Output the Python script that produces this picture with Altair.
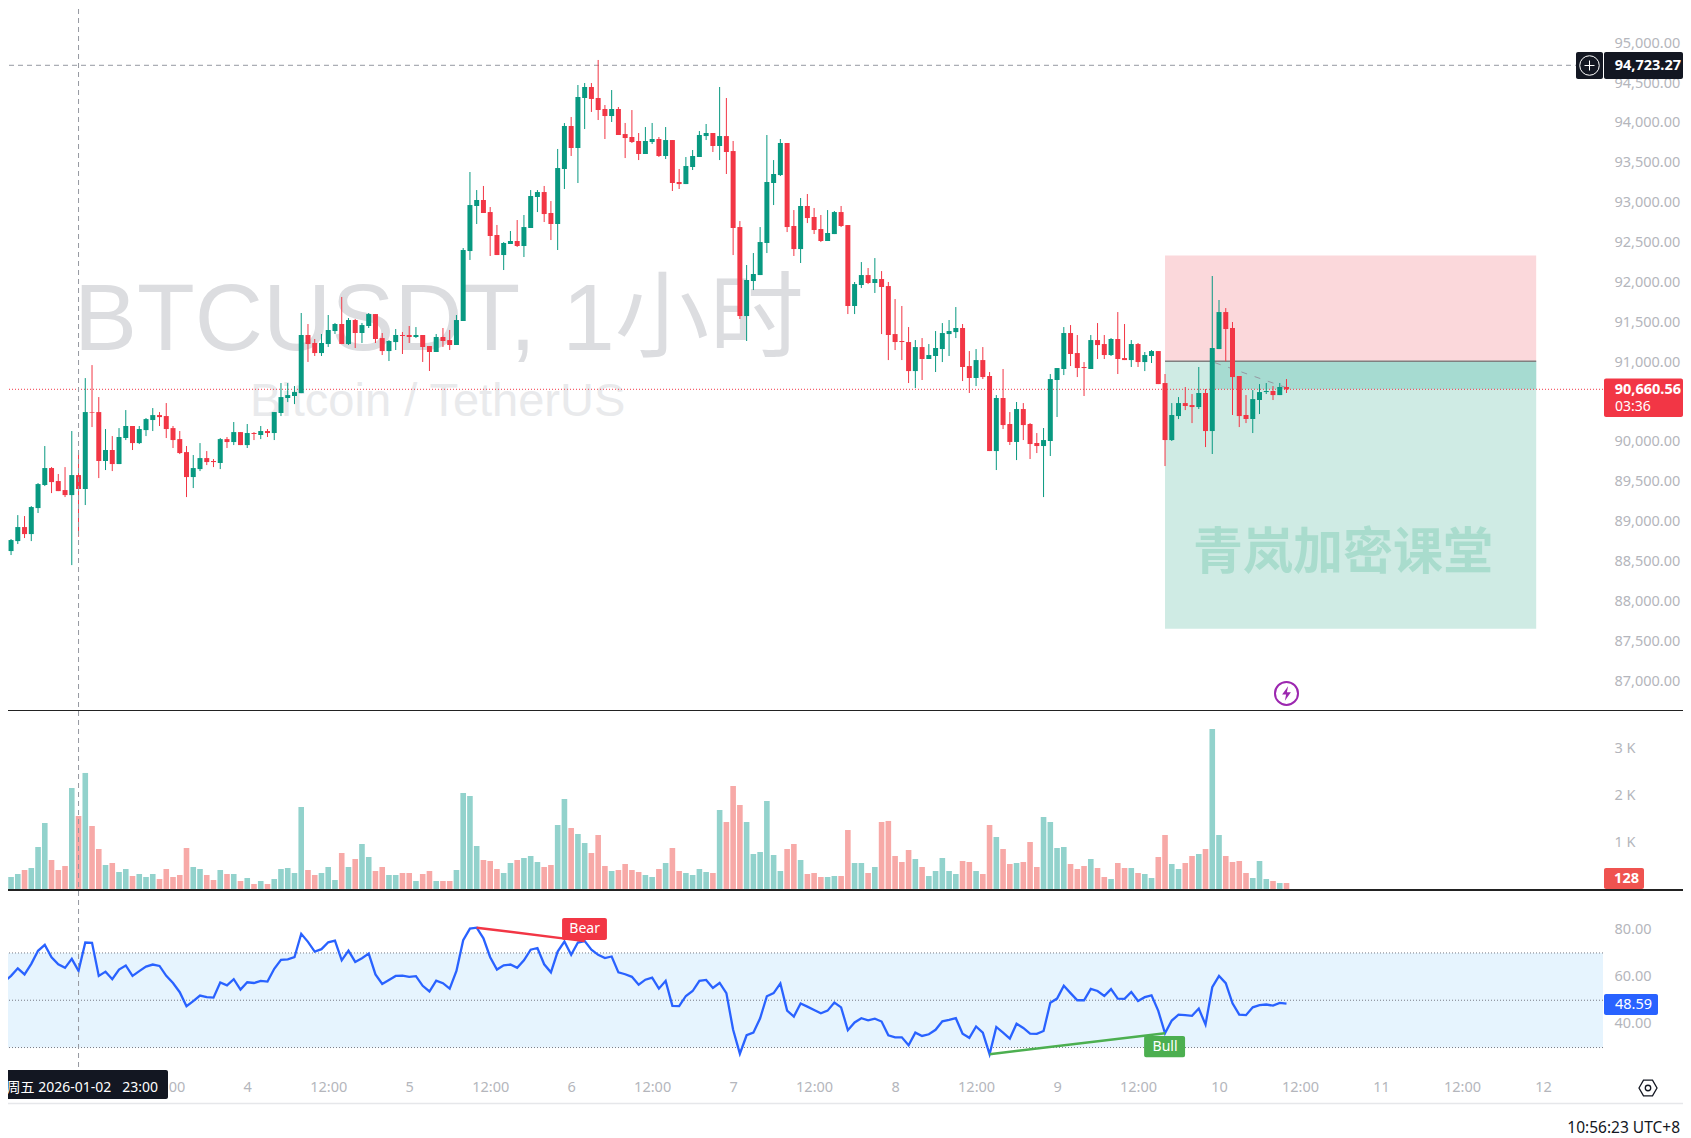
import altair as alt
import pandas as pd

FONT = "Noto Sans"

open_ = [88946,88632,88757,88933,88845,89171,89460,89673,89510,89397,
89334,89585,89410,90375,90375,89761,89899,89723,90049,90200,
89986,90149,90275,90337,90325,90174,90036,89873,89560,89660,
89798,89761,89736,90036,89999,90124,89961,90112,90087,90137,
90112,90363,90551,90576,90613,91341,91241,91115,91228,91391,
91479,91228,91529,91366,91454,91604,91303,91140,91253,91341,
91341,91316,91341,91203,91128,91316,91278,91216,91517,92394,
92959,93034,92883,92595,92344,92482,92520,92457,92683,93072,
93134,92871,92733,93423,93962,93686,94313,94451,94313,94175,
94087,94175,93861,93824,93774,93611,93761,93799,93586,93786,
93260,93234,93448,93573,93836,93874,93711,93836,93648,92695,
91579,92018,92093,92495,93247,93347,93749,92708,92419,92959,
92821,92670,92520,92607,92883,92720,91705,91968,92093,91993,
92043,91955,91353,91266,91253,90889,91190,91040,91078,91165,
91353,91378,91429,90952,90802,91027,90827,89886,90551,90225,
90000,90413,90225,89987,89949,90012,90777,90915,91366,91115,
90940,90915,91278,91228,91090,91291,91052,91027,91228,91002,
91078,91140,90739,90024,90325,90488,90463,90438,90614,90137,
91165,91629,91429,90827,90338,90288,90526,90626,90639,90588,
90689]
high = [88996,88783,89083,89071,89196,89485,89949,89685,89598,89685,
90137,89857,90801,90964,90563,90162,90074,90174,90400,90200,
90200,90300,90425,90375,90488,90200,90137,89949,89836,89986,
89886,89786,90049,90062,90250,90124,90225,90124,90200,90162,
90375,90739,90739,90701,91617,91479,91291,91354,91592,91492,
91818,91554,91542,91492,91617,91604,91366,91278,91416,91379,
91454,91441,91341,91203,91354,91429,91404,91592,92432,93385,
93159,93210,92946,92721,92507,92645,92783,92846,93159,93159,
93210,93021,93674,93999,94075,94476,94501,94501,94790,94225,
94413,94200,94000,94162,93874,93949,94000,93824,93949,93786,
93423,93573,93661,93899,93987,93874,94451,94313,93774,92770,
92219,92369,92695,93849,93535,93799,93749,92908,93059,93109,
92934,92846,92908,92896,92959,92720,92006,92256,92181,92306,
92143,92006,91792,91705,91441,91278,91303,91228,91391,91491,
91529,91692,91479,91140,91165,91190,90877,90588,90915,90375,
90501,90488,90237,90112,90175,90852,90927,91441,91466,91341,
91002,91341,91491,91341,91303,91629,91479,91278,91241,91128,
91153,91140,90852,90488,90563,90689,90601,90940,90664,92081,
91780,91679,91504,90827,90588,90651,90726,90739,90701,90739,
90789]
low = [88632,88582,88720,88795,88757,89109,89447,89359,89384,89309,
88456,88812,89209,90187,89547,89648,89635,89723,90024,89899,
89974,90074,90137,90200,90049,89924,89848,89309,89422,89635,
89710,89685,89660,89924,89961,89961,89924,90024,90036,90062,
90024,90325,90500,90475,90613,91003,91078,91078,91191,91354,
91228,91216,91178,91241,91429,91241,91090,91015,91153,91103,
91241,91303,91003,90890,91128,91191,91153,91216,91517,92282,
92733,92871,92332,92344,92156,92482,92445,92319,92683,92883,
92758,92532,92407,93172,93586,93247,93924,94138,94037,93799,
94012,93849,93560,93749,93535,93611,93736,93573,93548,93147,
93172,93234,93410,93573,93786,93636,93535,93360,92344,91542,
91266,91905,92093,92369,92971,93335,92632,92332,92244,92745,
92607,92507,92520,92607,92695,91604,91604,91930,91980,91868,
91353,91027,91153,91027,90739,90676,90777,91040,90877,91002,
91078,91303,90764,90614,90701,90789,89886,89648,90162,89962,
89773,90024,89786,89861,89309,89824,90313,90839,90952,90814,
90576,90915,91040,91040,91078,90852,91027,90940,90940,90889,
90990,90726,89698,90012,90287,90400,90237,90413,89936,89849,
91165,91011,90338,90187,90237,90112,90350,90601,90526,90588,
90614]
close = [88632,88770,88933,88845,89184,89472,89673,89497,89384,89334,
89585,89410,90375,90367,89761,89899,89723,90062,90200,89986,
90162,90287,90337,90312,90162,90024,89861,89560,89673,89798,
89748,89748,90036,89999,90124,89961,90112,90099,90137,90112,
90375,90563,90588,90626,91341,91228,91115,91241,91404,91479,
91228,91529,91366,91466,91604,91291,91140,91266,91341,91329,
91316,91341,91191,91128,91316,91266,91216,91529,92407,92971,
93034,92871,92583,92344,92495,92520,92457,92695,93084,93134,
92858,92733,93435,93962,93686,94326,94451,94301,94163,94087,
94175,93849,93811,93761,93611,93774,93799,93586,93786,93247,
93234,93460,93586,93849,93874,93711,93836,93636,92683,91579,
92031,92106,92507,93260,93360,93749,92695,92419,92959,92808,
92658,92520,92620,92883,92708,91705,91980,92093,91993,92043,
91943,91341,91253,91253,90889,91190,91040,91090,91178,91366,
91391,91429,90940,90802,91027,90814,89886,90551,90212,90000,
90413,90212,89974,89949,90024,90789,90927,91366,91103,90927,
90927,91278,91215,91090,91291,91040,91027,91228,91002,91090,
91140,90726,90024,90338,90488,90451,90438,90614,90137,91178,
91629,91416,90814,90325,90288,90538,90626,90639,90588,90689,
90660.56]
volume = [321,257,321,407,450,900,1414,621,407,493,
2163,1564,2485,1349,857,514,557,364,428,278,
321,257,321,214,428,257,300,878,471,428,
300,193,407,321,321,171,236,107,171,107,
214,428,450,343,1756,407,300,343,471,193,
771,471,643,964,685,386,471,300,300,343,
343,171,321,386,171,171,171,407,2056,1992,
921,621,600,428,343,557,621,664,707,578,
471,514,1371,1928,1307,1178,985,771,1157,493,
386,407,536,407,364,300,257,428,557,878,
386,343,300,428,364,343,1692,1435,2206,1799,
1435,750,793,1885,728,386,857,964,621,321,
343,257,257,278,278,1264,557,557,343,471,
1435,1457,707,578,835,643,471,278,386,664,
386,321,600,578,386,321,1371,1114,857,536,
557,578,1007,471,1542,1435,878,900,536,428,
493,643,450,257,214,557,450,450,343,321,
236,685,1157,536,428,557,707,750,857,3427,
1157,707,578,600,343,236,600,214,171,128,
128]
rsi = [57.8,60.3,63.5,60.9,65.4,70.9,73.4,68.2,65.2,63.7,
67.5,62.4,74.4,74.3,60.3,62.1,58.9,63.0,64.7,60.3,
62.3,64.2,65.1,64.5,60.3,57.3,53.4,47.5,49.6,52.0,
51.3,51.1,57.5,56.3,58.9,54.5,57.6,57.3,58.2,57.9,
63.3,67.1,67.3,68.2,78.1,74.7,70.6,71.6,74.5,75.2,
66.9,71.0,66.2,67.8,69.7,60.9,56.9,58.6,60.3,60.4,
59.9,60.2,56.1,53.7,58.3,57.2,54.9,62.4,75.4,80.3,
80.7,76.2,68.2,63.0,64.8,65.1,63.7,66.9,71.4,72.1,
65.2,61.8,70.6,74.8,69.2,74.4,75.0,71.4,69.2,67.8,
68.5,61.8,61.0,59.9,56.6,58.7,59.6,54.9,58.2,47.6,
47.5,51.8,53.9,58.2,58.6,55.2,57.3,53.0,37.5,27.4,
35.2,36.3,42.4,51.7,53.0,57.1,45.6,43.1,48.6,47.3,
45.9,44.5,45.6,49.0,47.0,37.3,40.6,42.4,41.5,42.2,
41.0,35.2,34.3,34.3,31.0,36.3,34.9,35.6,37.5,41.1,
41.7,42.4,35.8,34.1,38.9,36.3,27.2,38.7,36.3,33.8,
40.1,38.3,35.9,35.8,37.0,48.9,50.7,56.1,53.0,50.0,
50.0,54.8,53.9,51.8,54.7,50.7,50.6,53.5,49.7,51.3,
52.1,45.5,36.0,41.4,43.9,43.7,43.4,46.5,39.7,55.5,
60.3,57.2,48.7,43.9,43.7,47.0,47.9,48.2,47.7,48.9,
48.59]

time_tick_idx = [24,36,48,60,72,84,96,108,120,132,144,156,168,180,192,204,216,228]
time_tick_txt = ["12:00","4","12:00","5","12:00","6","12:00","7","12:00","8","12:00","9","12:00","10","12:00","11","12:00","12"]
price_ticks = [87000,87500,88000,88500,89000,89500,90000,91000,91500,92000,92500,93000,93500,94000,94500,95000]
volume_ticks = [1000,2000,3000]
rsi_ticks = [40,60,80]
rsi_levels = [70,50,30]

last_price = 90660.56
cross_price = 94723.27
cross_idx = 11
zone_left, zone_right = 172, 227
zone_top, zone_entry, zone_bottom = 92337, 91011, 87658
zone_dark_left = 179

UP, DOWN = "#089981", "#f23645"
LABEL = "#b4b6bc"
DARK = "#131722"
W, H = 1603, 1070

df = pd.DataFrame({"i": range(len(open_)), "o": open_, "h": high, "l": low, "c": close, "v": volume, "r": rsi})
df["dir"] = ["up" if c >= o else "down" for o, c in zip(df.o, df.c)]
df["top"] = df[["o", "c"]].max(axis=1)
df["bot"] = df[["o", "c"]].min(axis=1)
df["base"] = 0

XS = alt.Scale(domain=[-0.637, 236.9], range=[0, W], nice=False, zero=False, padding=0)
PS = alt.Scale(domain=[86639, 95542], range=[710, 0], nice=False, zero=False, padding=0)
VS = alt.Scale(domain=[0, 3812], range=[889, 711], nice=False, zero=False, padding=0)
RS = alt.Scale(domain=[20.5, 96.2], range=[1070, 891], nice=False, zero=False, padding=0)

time_expr = "{" + ",".join(f"'{k}':'{v}'" for k, v in zip(time_tick_idx, time_tick_txt)) + "}[datum.value]"
time_axis = alt.Axis(orient="bottom", values=time_tick_idx, labelExpr=time_expr, domain=False, ticks=False, grid=False,
                     labelColor=LABEL, labelFont=FONT, labelFontSize=14.5, labelPadding=10, labelOverlap=False,
                     labelFlush=False)

def X(f="i"):
    return alt.X(f"{f}:Q", scale=XS, axis=time_axis, title=None)
def Y(f, s, axis=None):
    return alt.Y(f"{f}:Q", scale=s, axis=axis, title=None)
def Y2(f):
    return alt.Y2(f"{f}:Q")

CC = alt.Color("dir:N", scale=alt.Scale(domain=["up", "down"], range=[UP, DOWN]), legend=None)
VC = alt.Color("dir:N", scale=alt.Scale(domain=["up", "down"], range=["#92d2cc", "#f7a9a7"]), legend=None)

one = pd.DataFrame({"a": [0]})

def box(x0, x1, y0, y1, color, radius=0):
    return alt.Chart(one).mark_rect(color=color, cornerRadius=radius).encode(
        x=alt.value(x0), x2=alt.value(x1), y=alt.value(y0), y2=alt.value(y1))

def label(x, y, s, size=14.5, color="white", weight="normal", align="left", font=FONT):
    return alt.Chart(one).mark_text(text=s, fontSize=size, color=color, fontWeight=weight, align=align,
                                    baseline="middle", font=font).encode(x=alt.value(x), y=alt.value(y))

def hrule(x0, x1, y, color, width=1, dash=None):
    kw = {"strokeDash": dash} if dash else {}
    return alt.Chart(one).mark_rule(color=color, strokeWidth=width, **kw).encode(
        x=alt.value(x0), x2=alt.value(x1), y=alt.value(y))

AX = dict(orient="right", domain=False, ticks=False, grid=False, labelColor=LABEL, labelFont=FONT,
          labelFontSize=14.5, labelPadding=11, labelAlign="left")
price_axis = alt.Axis(values=price_ticks, format=",.2f", labelOverlap=False, **AX)
vol_axis = alt.Axis(values=volume_ticks, labelExpr="datum.value/1000 + ' K'", **AX)
rsi_axis = alt.Axis(values=rsi_ticks, format=".2f", **AX)

layers = []

layers.append(alt.Chart(df.head(1)).mark_point(opacity=0).encode(x=X(), y=Y("c", PS, price_axis)))
layers.append(label(74, 322, "BTCUSDT, 1小时", size=94.5, color="#dcdde0", font="Liberation Sans, Noto Sans CJK SC"))
layers.append(label(250, 402, "Bitcoin / TetherUS", size=47, color="#e9eaec", font="Liberation Sans"))

zones = pd.DataFrame({"x0": [zone_left, zone_left, zone_dark_left], "x1": [zone_right] * 3,
                      "y0": [zone_entry, zone_bottom, last_price], "y1": [zone_top, zone_entry, zone_entry],
                      "k": ["stop", "target", "filled"]})
layers.append(alt.Chart(zones).mark_rect().encode(
    x=X("x0"), x2=alt.X2("x1:Q"), y=Y("y0", PS), y2=Y2("y1"),
    color=alt.Color("k:N", scale=alt.Scale(domain=["stop", "target", "filled"], range=["#fbd8db", "#cfebe4", "#a6dbd1"]), legend=None)))
layers.append(alt.Chart(pd.DataFrame({"i": [zone_left], "x1": [zone_right], "p": [zone_entry]})).mark_rule(color="#808080", strokeWidth=1.5).encode(
    x=X("i"), x2=alt.X2("x1:Q"), y=Y("p", PS)))
layers.append(label(1193, 554, "青岚加密课堂", size=50, color="#a9dccd", weight="bold", font="Noto Sans CJK SC"))
layers.append(alt.Chart(pd.DataFrame({"i": [179.4, 190], "p": [90994, 90680]})).mark_line(color="#9598a1", strokeWidth=1, strokeDash=[6, 8]).encode(
    x=X("i"), y=Y("p", PS)))

layers.append(alt.Chart(pd.DataFrame({"p": [last_price]})).mark_rule(color=DOWN, strokeWidth=1, strokeDash=[1, 2]).encode(
    x=alt.value(0), x2=alt.value(W), y=Y("p", PS)))
layers.append(alt.Chart(pd.DataFrame({"p": [cross_price]})).mark_rule(color="#9598a1", strokeWidth=1, strokeDash=[5, 4]).encode(
    x=alt.value(0), x2=alt.value(W), y=Y("p", PS)))

layers.append(alt.Chart(df).mark_rule(strokeWidth=1).encode(x=X(), y=Y("h", PS), y2=Y2("l"), color=CC))
layers.append(alt.Chart(df).mark_bar(size=5, orient="vertical").encode(x=X(), y=Y("top", PS), y2=Y2("bot"), color=CC))

layers.append(alt.Chart(df).mark_bar(size=5.6, orient="vertical").encode(
    x=X(), y=Y("v", VS, vol_axis), y2=Y2("base"), color=VC))

layers.append(alt.Chart(pd.DataFrame({"a": [rsi_levels[2]], "b": [rsi_levels[0]]})).mark_rect(color="#e6f4fe").encode(
    x=alt.value(0), x2=alt.value(W), y=Y("a", RS, rsi_axis), y2=Y2("b")))
layers.append(alt.Chart(pd.DataFrame({"r": rsi_levels})).mark_rule(color="#787b86", strokeWidth=1, strokeDash=[1, 2]).encode(
    x=alt.value(0), x2=alt.value(W), y=Y("r", RS)))
layers.append(alt.Chart(df).mark_line(color="#2962ff", strokeWidth=2.3).encode(x=X(), y=Y("r", RS)))

bear = pd.DataFrame({"i": [70, 86], "r": [80.7, 75.0]})
bull = pd.DataFrame({"i": [146, 172], "r": [27.2, 36.0]})
layers.append(alt.Chart(bear).mark_line(color=DOWN, strokeWidth=2.5).encode(x=X(), y=Y("r", RS)))
layers.append(alt.Chart(bull).mark_line(color="#4caf50", strokeWidth=2.5).encode(x=X(), y=Y("r", RS)))
tags = pd.DataFrame({"x0": [82.65, 168.9], "x1": [89.3, 174.97], "r0": [84.8, 34.9], "r1": [75.5, 25.9],
                     "i": [86, 172], "r": [80.2, 30.4], "t": ["Bear", "Bull"]})
layers.append(alt.Chart(tags).mark_rect(cornerRadius=2).encode(
    x=X("x0"), x2=alt.X2("x1:Q"), y=Y("r0", RS), y2=Y2("r1"),
    color=alt.Color("t:N", scale=alt.Scale(domain=["Bear", "Bull"], range=[DOWN, "#4caf50"]), legend=None)))
layers.append(alt.Chart(tags).mark_text(color="white", fontSize=14, font=FONT, baseline="middle").encode(
    x=X("i"), y=Y("r", RS), text="t:N"))

layers.append(alt.Chart(pd.DataFrame({"i": [cross_idx]})).mark_rule(color="#9598a1", strokeWidth=1, strokeDash=[5, 4]).encode(
    x=X(), y=alt.value(0), y2=alt.value(H)))

layers.append(hrule(0, 1691, 710.5, "#222222", 1))
layers.append(hrule(0, 1691, 890, "#222222", 2))
layers.append(hrule(0, 1691, 1103.5, "#e6e7ea", 1.5))

bolt = "M0.2,-0.9 L-0.55,0.15 L-0.05,0.15 L-0.2,0.9 L0.55,-0.15 L0.05,-0.15 Z"
ev = pd.DataFrame({"i": [190], "p": [86847]})
layers.append(alt.Chart(ev).mark_point(shape="circle", size=530, filled=False, color="#9c27b0", strokeWidth=2, opacity=1).encode(x=X(), y=Y("p", PS)))
layers.append(alt.Chart(ev).mark_point(shape=bolt, size=260, filled=True, color="#9c27b0", opacity=1).encode(x=X(), y=Y("p", PS)))

layers.append(box(1576, 1603, 52, 79, DARK, 2))
layers.append(box(1604, 1683, 52, 79, DARK, 2))
layers.append(label(1681, 65.5, f"{cross_price:,.2f}", weight="bold", align="right"))
layers.append(alt.Chart(one).mark_point(shape="circle", size=380, filled=False, color="white", strokeWidth=1, opacity=1).encode(x=alt.value(1589.5), y=alt.value(65.5)))
layers.append(alt.Chart(one).mark_point(shape="M-1,0L1,0M0,-1L0,1", size=100, filled=False, color="white", strokeWidth=1, opacity=1).encode(x=alt.value(1589.5), y=alt.value(65.5)))

layers.append(box(1604, 1683, 378.5, 417, DOWN, 2))
layers.append(label(1681, 389.5, f"{last_price:,.2f}", weight="bold", align="right"))
layers.append(label(1615, 406.5, "03:36", size=14))

layers.append(box(1604, 1644, 868, 889, "#ef5350", 2))
layers.append(label(1639, 878.5, f"{volume[-1]}", weight="bold", align="right"))
layers.append(box(1604, 1658, 994, 1015, "#2962ff", 2))
layers.append(label(1652, 1004.5, f"{rsi[-1]:.2f}", align="right"))

layers.append(box(0, 168, 1070, 1099, DARK, 2))
layers.append(label(158, 1087.5, "周五 2026-01-02\u00a0\u00a0\u00a023:00", size=14, align="right", font="Noto Sans, Noto Sans CJK SC"))

hexa = "M-1,0L-0.5,-0.87L0.5,-0.87L1,0L0.5,0.87L-0.5,0.87Z"
layers.append(alt.Chart(one).mark_point(shape=hexa, size=324, filled=False, color="#131722", strokeWidth=1.3, opacity=1).encode(x=alt.value(1648), y=alt.value(1088)))
layers.append(alt.Chart(one).mark_point(shape="circle", size=30, filled=False, color="#131722", strokeWidth=1.3, opacity=1).encode(x=alt.value(1648), y=alt.value(1088)))
layers.append(label(1680, 1127.5, "10:56:23 UTC+8", size=15.5, color="#131722", align="right"))

chart = (
    alt.layer(*layers)
    .resolve_scale(y="independent", color="independent")
    .resolve_axis(y="independent")
    .properties(width=W, height=H, background="white",
                padding={"left": -8, "top": -8, "right": 80, "bottom": 68},
                autosize=alt.AutoSizeParams(type="none"))
    .configure_view(strokeWidth=0)
)
chart.save("out.html", embed_options={"renderer": "svg", "actions": False})
